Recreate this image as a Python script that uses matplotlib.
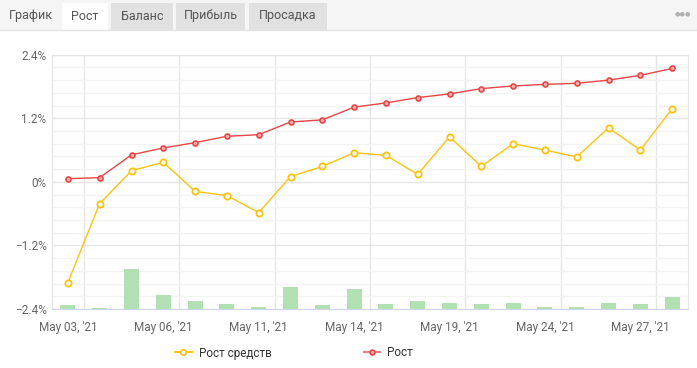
import matplotlib.pyplot as plt
from matplotlib.patches import Rectangle
from matplotlib.lines import Line2D
from matplotlib.ticker import MultipleLocator

plt.rcParams['font.family'] = ['Roboto', 'DejaVu Sans']

dates = ["May 03, '21", "May 04, '21", "May 05, '21", "May 06, '21", "May 07, '21",
         "May 10, '21", "May 11, '21", "May 12, '21", "May 13, '21", "May 14, '21",
         "May 17, '21", "May 18, '21", "May 19, '21", "May 20, '21", "May 21, '21",
         "May 24, '21", "May 25, '21", "May 26, '21", "May 27, '21", "May 28, '21"]
growth = [0.06, 0.08, 0.51, 0.64, 0.74, 0.86, 0.89, 1.13, 1.17, 1.41,
          1.49, 1.59, 1.66, 1.76, 1.81, 1.84, 1.86, 1.92, 2.01, 2.14]
equity_growth = [-1.90, -0.41, 0.21, 0.37, -0.18, -0.26, -0.58, 0.10, 0.29, 0.55,
                 0.50, 0.14, 0.85, 0.29, 0.72, 0.60, 0.47, 1.02, 0.60, 1.38]
activity = [1.5, 0.5, 15.6, 5.4, 3.0, 1.9, 0.8, 8.5, 1.5, 7.9,
            1.9, 3.0, 2.2, 1.9, 2.2, 0.8, 0.8, 2.2, 1.9, 4.6]
tabs = ["График", "Рост", "Баланс", "Прибыль", "Просадка"]

fig = plt.figure(figsize=(6.97, 3.68), dpi=100)
W, H = 697, 368

# tab bar at top
fig.patches.append(Rectangle((0, 1 - 30 / H), 1, 30 / H, transform=fig.transFigure,
                             facecolor='#f5f5f5', edgecolor='none', zorder=0))
fig.lines.append(Line2D([0, 1], [1 - 30 / H, 1 - 30 / H], transform=fig.transFigure,
                        color='#e3e3e3', lw=1))
tab_x = [(4, 58), (62, 108), (111, 173), (176, 245), (249, 327)]
for i, (name, (x0, x1)) in enumerate(zip(tabs, tab_x)):
    if i == 0:
        fc = '#f5f5f5'
    elif i == 1:
        fc = 'white'
    else:
        fc = '#e1e1e1'
    fig.patches.append(Rectangle((x0 / W, 1 - 30 / H), (x1 - x0) / W, 27 / H,
                                 transform=fig.transFigure, facecolor=fc,
                                 edgecolor='none', zorder=1))
    fig.text((x0 + x1) / 2 / W, 1 - 16 / H, name, ha='center', va='center',
             fontsize=9, color='#555555')
fig.text(683 / W, 1 - 14 / H, "●●●", ha='center', va='center', fontsize=4.5,
         color='#b0b0b0')

# base axes: grid and ticks
ax = fig.add_axes([52 / W, (H - 309) / H, (688 - 52) / W, (309 - 54.7) / H])
x = list(range(len(dates)))

ax.set_xlim(-0.5, len(dates) - 0.5)
ax.set_ylim(-2.4, 2.4)
ax.yaxis.set_minor_locator(MultipleLocator(0.24))
ax.set_yticks([-2.4, -1.2, 0, 1.2, 2.4])
ax.set_yticklabels(['−2.4%', '−1.2%', '0%', '1.2%', '2.4%'])
ax.set_xticks(x[::3])
ax.set_xticklabels(dates[::3])
ax.set_xticks([i + 0.5 for i in x[::3]], minor=True)
ax.grid(axis='y', which='major', color='#e6e6e6', lw=1)
ax.grid(axis='y', which='minor', color='#f3f3f3', lw=1)
ax.grid(axis='x', which='minor', color='#e6e6e6', lw=1)
ax.tick_params(axis='both', which='both', length=0, labelsize=8.5, colors='#666666')
ax.tick_params(axis='x', pad=9)
ax.tick_params(axis='y', pad=4)
for side in ['top', 'left', 'right']:
    ax.spines[side].set_color('#e6e6e6')
ax.spines['bottom'].set_color('#ccd6eb')

# bars
ax2 = ax.twinx()
ax2.bar(x, activity, width=0.47, color='#b3e0b3')
ax2.set_ylim(0, 100)
ax2.axis('off')

# lines
ax3 = ax.twinx()
ax3.plot(x, equity_growth, color='#ffc20e', lw=1, marker='o', ms=4.5,
         mfc='white', mec='#ffc20e', mew=1.3)
ax3.plot(x, growth, color='#e84646', lw=1, marker='o', ms=3.6,
         mfc='#f8b0b0', mec='#e84646', mew=1.2)
ax3.set_ylim(-2.4, 2.4)
ax3.axis('off')

handles = [Line2D([], [], color='#ffc20e', lw=1.5, marker='o', ms=4, mfc='white',
                  mec='#ffc20e', mew=1.2),
           Line2D([], [], color='#f08080', lw=1.5, marker='o', ms=3.5, mfc='#f8b0b0',
                  mec='#e84646', mew=1.2)]
fig.legend(handles, ['Рост средств', 'Рост'], loc='center', ncol=2, frameon=False,
           bbox_to_anchor=(294 / W, 1 - 353 / H), fontsize=8.5, labelcolor='#333333',
           handlelength=1.4, handletextpad=0.6, columnspacing=7.8)

fig.savefig('out.png', dpi=100, facecolor='white')
